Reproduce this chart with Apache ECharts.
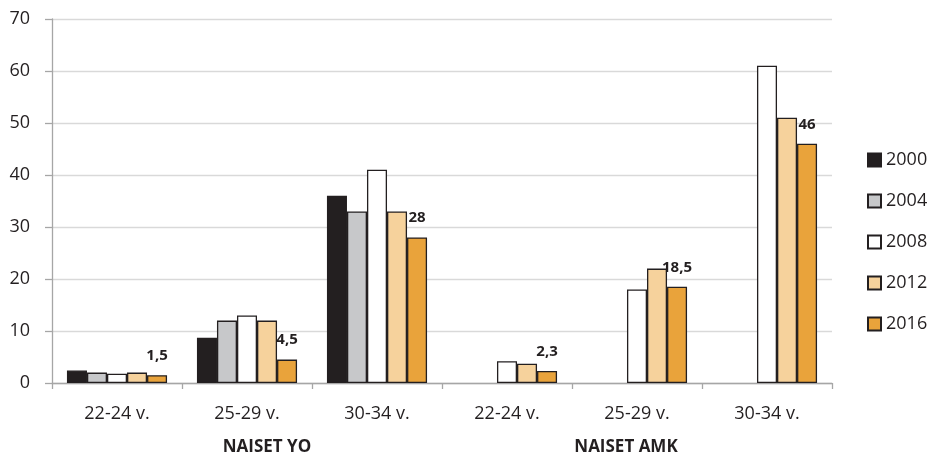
<!DOCTYPE html>
<html>
<head>
<meta charset="utf-8">
<script src="https://cdn.jsdelivr.net/npm/echarts@6/dist/echarts.min.js"></script>
<style>html,body{margin:0;padding:0;background:#fff}#c{width:935px;height:457px}</style>
</head>
<body>
<div id="c"></div>
<script>
const categories = ["22-24 v.", "25-29 v.", "30-34 v.", "22-24 v.", "25-29 v.", "30-34 v."];
const groups = ["NAISET YO", "NAISET AMK"];
const years = ["2000", "2004", "2008", "2012", "2016"];
const v2000 = [2.4, 8.7, 36, null, null, null];
const v2004 = [2.0, 12, 33, null, null, null];
const v2008 = [1.8, 13, 41, 4.2, 18, 61];
const v2012 = [2.0, 12, 33, 3.7, 22, 51];
const v2016 = [1.5, 4.5, 28, 2.3, 18.5, 46];
const yTicks = [0, 10, 20, 30, 40, 50, 60, 70];

const colors = ["#231f20", "#c7c8ca", "#ffffff", "#f6d29c", "#e9a33b"];
const seriesData = [v2000, v2004, v2008, v2012, v2016];
const FONT = "Open Sans";

const chart = echarts.init(document.getElementById('c'), null, {renderer: 'canvas'});
const series = years.map((y, i) => ({
  name: y,
  type: 'bar',
  data: seriesData[i],
  barGap: '0%',
  barCategoryGap: '23%',
  itemStyle: {color: colors[i], borderColor: '#231f20', borderWidth: 1.3},
  label: i === 4 ? {
    show: true, position: 'top', distance: 12,
    fontFamily: FONT, fontWeight: 'bold', fontSize: 15, color: '#231f20',
    formatter: p => String(p.value).replace('.', ',')
  } : {show: false},
  emphasis: {disabled: true}
}));

chart.setOption({
  animation: false,
  textStyle: {fontFamily: FONT},
  grid: {left: 52, right: 103, top: 19, bottom: 74},
  legend: {
    orient: 'vertical', left: 862, top: 146,
    itemWidth: 13, itemHeight: 13, itemGap: 23,
    icon: 'rect',
    textStyle: {fontFamily: FONT, fontSize: 18, color: '#231f20', lineHeight: 18},
    data: years
  },
  xAxis: [{
    type: 'category', data: categories,
    axisLine: {lineStyle: {color: '#a6a6a6', width: 1.3}},
    axisTick: {show: true, length: 6, alignWithLabel: false, lineStyle: {color: '#a6a6a6', width: 1.3}},
    axisLabel: {fontFamily: FONT, fontSize: 18, color: '#231f20', margin: 22}
  }, {
    type: 'category', data: groups, position: 'bottom', offset: 56,
    axisLine: {show: false}, axisTick: {show: false},
    axisLabel: {
      fontFamily: FONT, color: '#231f20', margin: 0,
      formatter: (v, idx) => idx === 0 ? '{a|' + v + '}' : '{b|' + v + '}',
      rich: {
        a: {fontFamily: FONT, fontSize: 17, fontWeight: 'bold', color: '#231f20', padding: [0, 0, 0, 40]},
        b: {fontFamily: FONT, fontSize: 17, fontWeight: 'bold', color: '#231f20', padding: [0, 22, 0, 0]}
      }
    }
  }],
  yAxis: {
    type: 'value', min: yTicks[0], max: yTicks[yTicks.length - 1], interval: 10,
    axisLine: {show: true, lineStyle: {color: '#a6a6a6', width: 1.3}},
    axisTick: {show: true, length: 7, lineStyle: {color: '#a6a6a6', width: 1.3}},
    axisLabel: {fontFamily: FONT, fontSize: 18, color: '#231f20', margin: 22},
    splitLine: {lineStyle: {color: '#d9d9d9', width: 1.3}}
  },
  series: series
});
</script>
</body>
</html>
